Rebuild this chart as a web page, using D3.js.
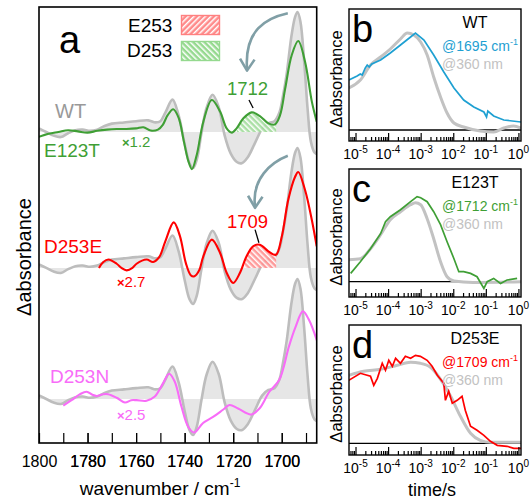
<!DOCTYPE html>
<html>
<head>
<meta charset="utf-8">
<script src="https://cdn.jsdelivr.net/npm/d3@7"></script>
<style>
body{margin:0;background:#fff}
text{font-family:"Liberation Sans",Arial,Helvetica,sans-serif}
</style>
</head>
<body>
<svg id="fig" width="530" height="503"></svg>
<script>
// ---- panel a: FTIR difference spectra [wavenumber, dA] ----
var wtSpec = [[1800,0.03],[1797,0.0],[1794,-0.03],[1791,-0.042],[1788,-0.01],[1785,0.015],[1782,0.02],[1779,0.01],[1776,0.02],[1773,0.05],[1770,0.07],[1765,0.08],[1760,0.09],[1755,0.097],[1752,0.08],[1750,0.09],[1748,0.16],[1745,0.27],[1742.5,0.14],[1740,-0.1],[1738,-0.26],[1736.5,-0.3],[1735,-0.23],[1733,0.0],[1731,0.2],[1728.5,0.31],[1726,0.21],[1723.5,-0.03],[1721,-0.18],[1718.5,-0.25],[1716.5,-0.26],[1714,-0.21],[1711,-0.09],[1708,0.03],[1705.5,0.075],[1703,0.09],[1701,0.16],[1699.5,0.3],[1698,0.48],[1696,0.8],[1694.5,0.96],[1693.5,1.0],[1692.3,0.92],[1690.8,0.6],[1689.3,0.18],[1688,-0.08],[1686.5,-0.17],[1685,-0.19]];
var e123tSpec = [[1800,-0.04],[1796,-0.015],[1792,0.0],[1788,0.015],[1784,0.005],[1780,-0.005],[1776,0.01],[1772,0.02],[1768,0.025],[1764,0.025],[1760,0.03],[1757,0.04],[1754,0.012],[1751,0.02],[1749,0.06],[1747,0.14],[1744.7,0.19],[1742.5,0.12],[1740.3,-0.08],[1738.5,-0.24],[1737,-0.31],[1735,-0.19],[1732.3,0.086],[1728.8,0.267],[1725.4,0.17],[1722.7,0.03],[1720.6,-0.005],[1718.6,0.03],[1715.8,0.114],[1712.4,0.164],[1709,0.133],[1705.5,0.072],[1702.8,0.064],[1700.7,0.14],[1698.6,0.36],[1695.9,0.64],[1693.2,0.758],[1690.4,0.586],[1687.6,0.253],[1685.6,0.086]];
var d253eSpec = [[1775.3,0.0],[1773.5,0.05],[1771.4,0.07],[1768,0.035],[1766,0.0],[1763.9,-0.02],[1761.5,0.0],[1759.8,0.035],[1755.7,0.07],[1753,0.05],[1750.5,0.09],[1748,0.22],[1744.5,0.38],[1742,0.27],[1739.5,0.04],[1737.5,-0.06],[1736,-0.07],[1734,-0.02],[1732.3,0.097],[1728.8,0.236],[1725.4,0.125],[1722.7,-0.04],[1720,-0.125],[1717.2,-0.04],[1714.5,0.097],[1711.8,0.18],[1709,0.194],[1705.5,0.139],[1702.4,0.11],[1700,0.26],[1697.3,0.57],[1694.5,0.76],[1693.2,0.8],[1690.4,0.65],[1687.6,0.4],[1685.6,0.18]];
var d253nSpec = [[1790,-0.055],[1786.6,-0.01],[1783.1,0.04],[1780.4,0.06],[1778,0.035],[1776.3,0.025],[1773.5,0.04],[1771.5,0.04],[1768,0.01],[1764.6,-0.03],[1762,-0.01],[1759.8,-0.01],[1755.7,-0.015],[1752.3,0.02],[1748.9,0.13],[1746.4,0.21],[1744.1,0.145],[1741.3,-0.065],[1738.6,-0.23],[1736.1,-0.28],[1732.4,-0.2],[1728.3,-0.15],[1724.2,-0.09],[1721.5,-0.05],[1718,-0.08],[1712.6,-0.13],[1709.2,-0.08],[1705.1,0.06],[1701,0.16],[1697,0.44],[1694.3,0.6],[1691.3,0.73],[1688.8,0.66],[1685.4,0.48]];
var mutantNames = ["E123T","D253E","D253N"];
var mutantColors = ["#3f9f35","#ff0000","#f86cf8"];
var mutantOffsets = [0,-1.133,-2.225];
var mutantFactors = ["1.2","2.7","2.5"];
var hatchRanges = [[1718.5,1702.3],[1715.2,1702.3],null];
var peakLabels = ["1712","1709",null];
var wnTicks = [1790,1780,1770,1760,1750,1740,1730,1720,1710,1700,1690];
var wnLabels = [1800,1780,1760,1740,1720,1700];

// ---- panels b-d: kinetics [time s, dA] ----
var wtIR = [[6.3e-6,0.50],[1.12e-5,0.54],[1.4e-5,0.56],[1.6e-5,0.55],[2.0e-5,0.62],[2.29e-5,0.65],[2.63e-5,0.63],[3.16e-5,0.66],[5.89e-5,0.70],[1.17e-4,0.77],[2.4e-4,0.85],[4.9e-4,0.93],[6.92e-4,0.97],[1.26e-3,0.90],[2.51e-3,0.75],[5.13e-3,0.58],[1.05e-2,0.42],[2.09e-2,0.30],[4.27e-2,0.23],[8.71e-2,0.18],[0.105,0.13],[0.115,0.19],[0.174,0.14],[0.355,0.10],[1.2,0.08]];
var wtUV = [[6.3e-6,0.42],[1.41e-5,0.50],[2.88e-5,0.65],[5.89e-5,0.73],[1.17e-4,0.81],[2.4e-4,0.91],[3.89e-4,0.97],[6.17e-4,0.95],[1.0e-3,0.88],[1.58e-3,0.75],[2.51e-3,0.53],[4.07e-3,0.33],[6.46e-3,0.17],[1.05e-2,0.07],[2.09e-2,0.03],[6.76e-2,-0.01],[0.174,-0.02],[0.355,0.02],[0.708,0.04],[1.2,0.02]];
var e123tIR = [[7.1e-6,0.083],[1.41e-5,0.20],[2.88e-5,0.33],[5.89e-5,0.48],[8.32e-5,0.60],[1.17e-4,0.65],[2.4e-4,0.72],[4.9e-4,0.80],[7.76e-4,0.85],[1.0e-3,0.84],[1.58e-3,0.80],[2.51e-3,0.70],[4.07e-3,0.57],[6.46e-3,0.40],[1.05e-2,0.23],[1.48e-2,0.10],[2.09e-2,0.10],[3.39e-2,0.083],[5.37e-2,0.05],[8.71e-2,-0.067],[0.11,0.0],[0.174,0.033],[0.282,-0.017],[0.447,0.017],[0.912,0.033]];
var e123tUV = [[6.3e-6,0.22],[1.41e-5,0.23],[2.88e-5,0.33],[5.89e-5,0.47],[1.17e-4,0.62],[2.4e-4,0.70],[4.9e-4,0.77],[6.92e-4,0.79],[1.0e-3,0.77],[1.58e-3,0.63],[2.51e-3,0.43],[4.07e-3,0.20],[6.46e-3,0.05],[1.05e-2,0.007],[4.0e-2,-0.007],[1.2,0.0]];
var d253eIR = [[6.2e-6,0.63],[1.41e-5,0.70],[2.88e-5,0.67],[3.63e-5,0.58],[4.68e-5,0.65],[6.61e-5,0.80],[8.32e-5,0.73],[1.05e-4,0.83],[1.35e-4,0.77],[1.7e-4,0.85],[2.4e-4,0.80],[3.39e-4,0.87],[4.9e-4,0.85],[6.92e-4,0.88],[9.77e-4,0.87],[1.58e-3,0.83],[2.24e-3,0.77],[3.24e-3,0.68],[5.13e-3,0.60],[5.75e-3,0.43],[7.24e-3,0.52],[9.33e-3,0.40],[1.32e-2,0.43],[1.86e-2,0.47],[2.34e-2,0.33],[3.39e-2,0.17],[5.37e-2,0.13],[8.71e-2,0.08],[0.138,0.02],[0.224,-0.02],[0.447,-0.03],[0.724,-0.05],[1.2,-0.05]];
var d253eUV = [[6.2e-6,0.68],[1.78e-5,0.72],[5.89e-5,0.74],[1.91e-4,0.78],[4.9e-4,0.81],[9.77e-4,0.80],[2.0e-3,0.76],[4.07e-3,0.64],[8.32e-3,0.47],[1.66e-2,0.27],[3.39e-2,0.10],[6.76e-2,0.03],[0.138,0.01],[1.2,0.01]];
var kinLetters = ["b","c","d"];
var kinNames = ["WT","E123T","D253E"];
var kinWavenumbers = ["1695","1712","1709"];
var kinColors = ["#1ea0d2","#3f9f35","#ff0000"];
var decades = [1e-5,1e-4,1e-3,1e-2,1e-1,1];
var decadeExp = ["-5","-4","-3","-2","-1","0"];

var svg = d3.select("#fig");
var defs = svg.append("defs");
var grayLine = "#bdbdbd", grayFill = "#e6e6e6", arrowCol = "#809fa6";

function hatch(id, bg, angle) {
  var p = defs.append("pattern").attr("id", id).attr("patternUnits", "userSpaceOnUse")
    .attr("width", 4).attr("height", 4).attr("patternTransform", "rotate(" + angle + ")");
  p.append("rect").attr("width", 4).attr("height", 4).attr("fill", bg);
  p.append("rect").attr("x", 0).attr("width", 1.5).attr("height", 4).attr("fill", "#fff");
}
hatch("hR", "#ff8a8a", 45);
hatch("hG", "#95d98f", -45);
hatch("hRs", "#ff9090", -45);
hatch("hGs", "#a2dc9c", -45);

// ---------------- panel a ----------------
var ax0 = 39, ax1 = 316.7, ay0 = 7, ay1 = 443;
var x = d3.scaleLinear().domain([1800, 1685.6]).range([ax0, ax1]);
var y = d3.scaleLinear().domain([-2.592, 1.042]).range([ay1, ay0]);

defs.append("clipPath").attr("id", "clipA").append("rect")
  .attr("x", ax0).attr("y", ay0).attr("width", ax1 - ax0).attr("height", ay1 - ay0);

var gA = svg.append("g").attr("clip-path", "url(#clipA)");
var specs = [e123tSpec, d253eSpec, d253nSpec];

mutantOffsets.forEach(function(off, i) {
  var line = d3.line().x(d => x(d[0])).y(d => y(d[1] + off)).curve(d3.curveCatmullRom.alpha(0.5));
  var area = d3.area().x(d => x(d[0])).y0(y(off)).y1(d => y(d[1] + off)).curve(d3.curveCatmullRom.alpha(0.5));
  gA.append("path").attr("d", area(wtSpec)).attr("fill", grayFill);
  gA.append("path").attr("d", line(wtSpec)).attr("fill", "none").attr("stroke", grayLine).attr("stroke-width", 2.6);
  if (hatchRanges[i]) {
    var cid = "hclip" + i;
    defs.append("clipPath").attr("id", cid).append("rect")
      .attr("x", x(hatchRanges[i][0])).attr("y", ay0)
      .attr("width", x(hatchRanges[i][1]) - x(hatchRanges[i][0])).attr("height", ay1 - ay0);
    gA.append("path").attr("d", area(specs[i])).attr("clip-path", "url(#" + cid + ")")
      .attr("fill", i === 0 ? "url(#hGs)" : "url(#hRs)").attr("opacity", 0.9);
  }
  gA.append("path").attr("d", line(specs[i])).attr("fill", "none")
    .attr("stroke", mutantColors[i]).attr("stroke-width", 2.1);
});

// axis a
var axA = d3.axisBottom(x).tickValues(wnTicks.concat(wnLabels)).tickSizeInner(-10).tickSizeOuter(0).tickPadding(13)
  .tickFormat(d => wnLabels.indexOf(d) >= 0 ? d : "");
var gax = svg.append("g").attr("transform", "translate(0," + ay1 + ")").call(axA);
gax.select(".domain").remove();
gax.selectAll(".tick line").attr("stroke", "#000").attr("stroke-width", 1.3);
gax.selectAll(".tick text").attr("font-size", 16).attr("fill", "#000")
  .attr("font-family", "'Liberation Sans',Arial,sans-serif");
svg.append("rect").attr("x", ax0).attr("y", ay0).attr("width", ax1 - ax0).attr("height", ay1 - ay0)
  .attr("fill", "none").attr("stroke", "#000").attr("stroke-width", 1.6);

var xt = svg.append("text").attr("x", 160).attr("y", 495).attr("text-anchor", "middle").attr("font-size", 19);
xt.append("tspan").text("wavenumber / cm");
xt.append("tspan").attr("dy", -8).attr("font-size", 12).text("-1");
svg.append("text").attr("transform", "translate(31,257) rotate(-90)").attr("text-anchor", "middle")
  .attr("font-size", 20).text("Δabsorbance");

svg.append("text").attr("x", 59).attr("y", 53).attr("font-size", 38).text("a");
// legend
svg.append("text").attr("x", 128).attr("y", 31.5).attr("font-size", 19).text("E253");
svg.append("text").attr("x", 127).attr("y", 57).attr("font-size", 19).text("D253");
svg.append("rect").attr("x", 181.5).attr("y", 15.5).attr("width", 38).attr("height", 19)
  .attr("fill", "url(#hR)").attr("stroke", "#ff8080").attr("stroke-width", 1.4);
svg.append("rect").attr("x", 181.5).attr("y", 41.5).attr("width", 38).attr("height", 19)
  .attr("fill", "url(#hG)").attr("stroke", "#95d98f").attr("stroke-width", 1.4);

// trace labels
svg.append("text").attr("x", 55).attr("y", 118).attr("font-size", 20).attr("fill", "#999").text("WT");
var nameXY = [[44, 157], [44, 253], [50, 383]];
var factXY = [[122, 147], [117, 287], [117, 420]];
mutantNames.forEach(function(n, i) {
  svg.append("text").attr("x", nameXY[i][0]).attr("y", nameXY[i][1]).attr("font-size", 19)
    .attr("fill", mutantColors[i]).text(n);
  var f = svg.append("text").attr("x", factXY[i][0]).attr("y", factXY[i][1]).attr("font-size", 15)
    .attr("fill", mutantColors[i]);
  f.append("tspan").attr("font-weight", "bold").attr("font-size", 13).text("×");
  f.append("tspan").text(mutantFactors[i]);
});
var peakXY = [[247.5, 95], [247.5, 228]];
var leader = [[[1713.5, 0.267], [1711.8, 0.2]], [[1711, 0.32], [1709.4, 0.21]]];
var arrows = [
  [[1697.5, 0.99], [1706.5, 0.95], [1715.5, 0.85], [1714.3, 0.52]],
  [[1697.5, 0.935], [1704.5, 0.88], [1712.5, 0.74], [1711, 0.51]]
];
peakLabels.forEach(function(lbl, i) {
  if (!lbl) return;
  var off = mutantOffsets[i];
  svg.append("text").attr("x", peakXY[i][0]).attr("y", peakXY[i][1]).attr("text-anchor", "middle")
    .attr("font-size", 18.5).attr("fill", mutantColors[i]).text(lbl);
  svg.append("line").attr("x1", x(leader[i][0][0])).attr("y1", y(leader[i][0][1] + off))
    .attr("x2", x(leader[i][1][0])).attr("y2", y(leader[i][1][1] + off))
    .attr("stroke", "#000").attr("stroke-width", 1.3);
  var a = arrows[i].map(p => [x(p[0]), y(p[1] + off)]);
  svg.append("path").attr("d", "M" + a[0] + "C" + a[1] + " " + a[2] + " " + a[3])
    .attr("fill", "none").attr("stroke", arrowCol).attr("stroke-width", 2.6);
  var t = a[3];
  svg.append("path").attr("d", "M" + (t[0] - 7) + "," + (t[1] - 11) + "L" + t[0] + "," + (t[1] + 1) + "L" + (t[0] + 7.5) + "," + (t[1] - 10))
    .attr("fill", "none").attr("stroke", arrowCol).attr("stroke-width", 2.6).attr("stroke-linejoin", "round");
});

// ---------------- panels b-d ----------------
var bx0 = 349, bx1 = 521;
var xT = d3.scaleLog().domain([6.31e-6, 1.2]).range([bx0, bx1]);
var panels = [
  {top: 9, bottom: 141, dom: [-0.11, 1.21], ir: wtIR, uv: wtUV},
  {top: 169, bottom: 297, dom: [-0.153, 1.127], ir: e123tIR, uv: e123tUV},
  {top: 325, bottom: 455, dom: [-0.117, 1.183], ir: d253eIR, uv: d253eUV}
];
var minorTicks = xT.ticks().filter(t => decades.indexOf(t) < 0);

panels.forEach(function(p, i) {
  var yk = d3.scaleLinear().domain(p.dom).range([p.bottom, p.top]);
  var cid = "clipK" + i;
  defs.append("clipPath").attr("id", cid).append("rect")
    .attr("x", bx0).attr("y", p.top).attr("width", bx1 - bx0).attr("height", p.bottom - p.top);
  var g = svg.append("g").attr("clip-path", "url(#" + cid + ")");
  g.append("line").attr("x1", bx0).attr("x2", bx1).attr("y1", yk(0)).attr("y2", yk(0))
    .attr("stroke", "#000").attr("stroke-width", 1.3);
  var lk = d3.line().x(d => xT(d[0])).y(d => yk(d[1]));
  g.append("path").attr("d", lk.curve(d3.curveMonotoneX)(p.uv)).attr("fill", "none")
    .attr("stroke", "#c2c2c2").attr("stroke-width", 3);
  g.append("path").attr("d", lk.curve(d3.curveLinear)(p.ir)).attr("fill", "none")
    .attr("stroke", kinColors[i]).attr("stroke-width", 1.7);

  var gMin = svg.append("g").attr("transform", "translate(0," + p.bottom + ")")
    .call(d3.axisBottom(xT).tickValues(minorTicks).tickSizeInner(-4).tickSizeOuter(0).tickFormat(""));
  var gMaj = svg.append("g").attr("transform", "translate(0," + p.bottom + ")")
    .call(d3.axisBottom(xT).tickValues(decades).tickSizeInner(-8).tickSizeOuter(0).tickFormat(""));
  gMin.select(".domain").remove(); gMaj.select(".domain").remove();
  svg.selectAll(".tick line").attr("stroke", "#000").attr("stroke-width", 1.2);
  decades.forEach(function(dv, k) {
    var t = svg.append("text").attr("x", xT(dv)).attr("y", p.bottom + 18).attr("text-anchor", "middle").attr("font-size", 14);
    t.append("tspan").text("10");
    t.append("tspan").attr("dy", -6).attr("font-size", 10).text(decadeExp[k]);
  });
  svg.append("rect").attr("x", bx0).attr("y", p.top).attr("width", bx1 - bx0).attr("height", p.bottom - p.top)
    .attr("fill", "none").attr("stroke", "#000").attr("stroke-width", 1.4);

  svg.append("text").attr("x", 352).attr("y", p.top + 33).attr("font-size", 38).text(kinLetters[i]);
  svg.append("text").attr("x", 475).attr("y", p.top + 19).attr("text-anchor", "middle").attr("font-size", 16).text(kinNames[i]);
  var w = svg.append("text").attr("x", 518).attr("y", p.top + 42).attr("text-anchor", "end")
    .attr("font-size", 14).attr("fill", kinColors[i]);
  w.append("tspan").text("@" + kinWavenumbers[i] + " cm");
  w.append("tspan").attr("dy", -6).attr("font-size", 9).text("-1");
  svg.append("text").attr("x", 503).attr("y", p.top + 60).attr("text-anchor", "end")
    .attr("font-size", 14).attr("fill", "#c2c2c2").text("@360 nm");
  svg.append("text").attr("transform", "translate(342," + ((p.top + p.bottom) / 2 + 4) + ") rotate(-90)")
    .attr("text-anchor", "middle").attr("font-size", 16.5).text("Δabsorbance");
});
svg.append("text").attr("x", 432).attr("y", 496).attr("text-anchor", "middle").attr("font-size", 18).text("time/s");
</script>
</body>
</html>
